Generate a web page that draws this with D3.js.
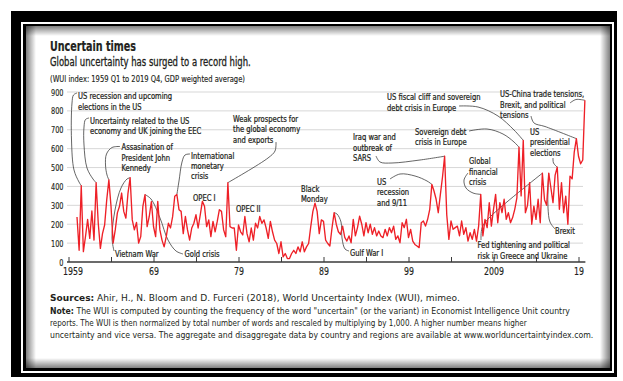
<!DOCTYPE html>
<html><head><meta charset="utf-8">
<script src="https://cdn.jsdelivr.net/npm/d3@7"></script>
<style>
html,body{margin:0;padding:0;background:#fff;}
svg{display:block;}
text{font-family:"Liberation Sans Narrow","DejaVu Sans Condensed","Roboto Condensed","Liberation Sans",Arial,sans-serif;fill:#231f20;}
</style></head><body>
<svg id="c" width="623" height="381"></svg>
<script>
// ---------------- DATA ----------------
const startYear = 1960; // first quarter drawn (Q1)
const wui = [
 238, 62,404, 55,  135,225,125,270,  116,420,205, 72,  150,196,330,435,  // 1960-63
 295,100,170,260,  295,365,268,232,  365,446,223,170,  210,100,135,295,  // 1964-67
 357,187,241,320,  188,134,321,170,  116, 80,134,205,  180,240,348,357,  // 1968-71
 277,268,150,241,  170,116,180,205,  250,180,250,321,  295,187,223,134,  // 1972-75
 215,160,215,277,  268,170,134,420,  187,180,180, 62,  196,160,143,241,  // 1976-79
 150,107,180,116,  205,180,241,205,  223,180,125,215,  160,116, 98, 45,  // 1980-83
 107, 27, 45, 18,   18, 45, 62, 45,   80, 54,107, 54,   80, 98,187,268,  // 1984-87
 312,268,150,223,  215,116, 98, 85,  180,261,200,160,  146,190,130,111,  // 1988-91
 138,102,226,138,  182,243,200,138,  208,155,200,146,  182,138,164,138,  // 1992-95
 129,173,138,182,  155,190,120,138,  102,208,182,226,  129,173,111, 93,  // 1996-99
  85, 76,208,217,  190,226,279,411,  376,332,261,358,  450,560,250,120,  // 2000-03
 217,173,182,190,  138,217,146,182,  111,155,120,173,  111,190,358,138,  // 2004-07
 226,182,314,190,  279,358,208,314,  261,332,226,261,  208,235,279,340,  // 2008-11
 608,350,644,261,  300,420,200,296,  226,332,208,470,  330,300,470,393,  // 2012-15
 314,460,502,279,  420,261,349,200,  455,440,582,653,  560,520,540,856   // 2016-19
];
const yTickValues = [0,100,200,300,400,500,600,700,800,900];
const xMajorYears = [1959,1969,1979,1989,1999,2009,2019];
const xTickLabels = ["1959","69","79","89","99","2009","19"];
const xMinorYears = [1964,1974,1984,1994,2004,2014];

const titleText = "Uncertain times";
const subtitleText = "Global uncertainty has surged to a record high.";
const unitText = "(WUI index: 1959 Q1 to 2019 Q4, GDP weighted average)";
const footer = [
 [["Sources:",true],[" Ahir, H., N. Bloom and D. Furceri (2018), World Uncertainty Index (WUI), mimeo.",false]],
 [["Note:",true],[" The WUI is computed by counting the frequency of the word \"uncertain\" (or the variant) in Economist Intelligence Unit country",false]],
 [["reports. The WUI is then normalized by total number of words and rescaled by multiplying by 1,000. A higher number means higher",false]],
 [["uncertainty and vice versa. The aggregate and disaggregate data by country and regions are available at www.worlduncertaintyindex.com.",false]]
];
// annotations: text lines, anchor quarter index of the pointed value
const annotations = [
 {lines:["US recession and upcoming","elections in the US"], target:2},
 {lines:["Uncertainty related to the US","economy and UK joining the EEC"], target:9},
 {lines:["Assasination of","President John","Kennedy"], target:15},
 {lines:["Vietnam War"], target:25},
 {lines:["Gold crisis"], target:32},
 {lines:["International","monetary","crisis"], target:47},
 {lines:["Weak prospects for","the global economy","and exports"], target:71},
 {lines:["OPEC I"], target:null},
 {lines:["OPEC II"], target:null},
 {lines:["Black","Monday"], target:null},
 {lines:["Gulf War I"], target:121},
 {lines:["US","recession","and 9/11"], target:167},
 {lines:["Iraq war and","outbreak of","SARS"], target:173},
 {lines:["Sovereign debt","crisis in Europe"], target:208},
 {lines:["US fiscal cliff and sovereign","debt crisis in Europe"], target:210},
 {lines:["Global","financial","crisis"], target:190},
 {lines:["Fed tightening and political","risk in Greece and Ukraine"], target:219},
 {lines:["US","presidential","elections"], target:226},
 {lines:["US-China trade tensions,","Brexit, and political","tensions"], target:239},
 {lines:["Brexit"], target:222},
 {lines:[], target:235}
];
// layout for annotations (text position and leader waypoints, pixels)
const annLayout = [
 {x:78, y:99.3, path:[[77,93],[73.5,95],[72,103],[71.5,140],[74,170],[79,182]]},
 {x:90, y:124, path:[[89,118],[85.5,119.5],[84,127],[84,145],[87,168],[93,179]]},
 {x:121.5, y:150.5, path:[[120,146.5],[112,147.5],[106.5,154],[105.5,165],[107,175]]},
 {x:115, y:257, path:[[114,251],[112,238],[115,210],[121,188],[127,179]]},
 {x:184.5, y:257, path:[[183,254],[176,251],[168,240],[160,218],[151,199]]},
 {x:191, y:158.8, path:[[190,154],[185,155],[182,162],[179,181]]},
 {x:233, y:122, path:[[276,142],[275,151],[268,158]]},
 {x:193, y:201.5, path:null},
 {x:236, y:212.5, path:null},
 {x:301, y:192, path:null},
 {x:350, y:256, path:[[349,251],[345,249],[342,238],[341,222],[337,214]]},
 {x:377, y:185, path:[[390,179],[400,174],[415,176],[427,181]]},
 {x:353, y:140.5, path:[[376,156],[380,162],[392,163],[420,160]]},
 {x:415, y:135, path:[[469,131],[487,129],[503,134],[514,142]]},
 {x:387, y:100.5, path:[[459,106],[478,107],[498,116],[514,130]]},
 {x:469, y:164.5, path:[[468,173],[464,180],[466,188],[473,193]]},
 {x:477.5, y:248.5, path:[[481,240],[482,228],[488,219]]},
 {x:530, y:135, path:[[553,158],[553.5,163]]},
 {x:500, y:97.5, path:[[570,103],[576,99.5]]},
 {x:555, y:234, path:[[555,229],[550,222],[548,208],[548,190]]},
 {x:0, y:0, path:[[531,116],[534,123],[545,126.5]]}
];

// ---------------- DRAW ----------------
const svg = d3.select("#c");
const defs = svg.append("defs");
svg.append("rect").attr("x",11).attr("y",11).attr("width",606).attr("height",366).attr("fill","#000");
svg.append("rect").attr("x",22).attr("y",23).attr("width",591).attr("height",349)
  .attr("fill","none").attr("stroke","#fff").attr("stroke-width",2);
svg.append("rect").attr("x",26).attr("y",26).attr("width",584).attr("height",342).attr("fill","#fff");
function grad(id,x1,y1,x2,y2){
  const g=defs.append("linearGradient").attr("id",id).attr("x1",x1).attr("y1",y1).attr("x2",x2).attr("y2",y2);
  g.append("stop").attr("offset",0).attr("stop-color","#000").attr("stop-opacity",0.5);
  g.append("stop").attr("offset",1).attr("stop-color","#000").attr("stop-opacity",0);
}
grad("gl",0,0,1,0); grad("gr",1,0,0,0); grad("gt",0,0,0,1); grad("gb",0,1,0,0);
const sw=10;
svg.append("rect").attr("x",26).attr("y",26).attr("width",sw).attr("height",342).attr("fill","url(#gl)");
svg.append("rect").attr("x",610-sw).attr("y",26).attr("width",sw).attr("height",342).attr("fill","url(#gr)");
svg.append("rect").attr("x",26).attr("y",26).attr("width",584).attr("height",sw).attr("fill","url(#gt)");
svg.append("rect").attr("x",26).attr("y",368-sw).attr("width",584).attr("height",sw).attr("fill","url(#gb)");

function fitted(parent, x, y, target, build){
  const g = parent.append("g");
  build(g);
  const w = g.node().getBBox().width;
  const k = target / w;
  g.attr("transform",`translate(${x},${y}) scale(${k},1)`);
  return g;
}
// headings
fitted(svg,50,50.8,86,g=>g.append("text").attr("font-size",13.2).attr("font-weight","bold")
  .attr("stroke","#231f20").attr("stroke-width",0.2).text(titleText));
fitted(svg,50,65.7,201,g=>g.append("text").attr("font-size",11.8)
  .attr("stroke","#231f20").attr("stroke-width",0.3).text(subtitleText));
fitted(svg,50,82,195,g=>g.append("text").attr("font-size",9.2)
  .attr("stroke","#231f20").attr("stroke-width",0.15).text(unitText));

// scales
const x = d3.scaleLinear().domain([1959,2019]).range([68.5,578.5]);
const y = d3.scaleLinear().domain([0,900]).range([262,92]);
const tOf = i => startYear + i/4;

// gridlines
svg.append("g").selectAll("line").data(yTickValues.filter(v=>v>0)).join("line")
  .attr("x1",67).attr("x2",583).attr("y1",d=>y(d)).attr("y2",d=>y(d))
  .attr("stroke","#d2d2d2").attr("stroke-width",0.9);

// y axis labels
const yAx = svg.append("g").call(d3.axisLeft(y).tickValues(yTickValues).tickSize(0).tickPadding(0));
yAx.select(".domain").remove();
yAx.selectAll("text").attr("font-size",9.4).attr("font-family",null).attr("fill","#231f20")
  .attr("stroke","#231f20").attr("stroke-width",0.15);
{
  const texts = yAx.selectAll(".tick text").nodes();
  const w = texts[texts.length-1].getBBox().width;
  yAx.attr("transform",`translate(63.5,0) scale(${12.5/w},1)`);
}

// x axis
const xAx = svg.append("g").attr("transform",`translate(0,${y(0)})`)
  .call(d3.axisBottom(x).tickValues(xMajorYears).tickFormat((d,i)=>xTickLabels[i]).tickSizeInner(-5).tickSizeOuter(0).tickPadding(6));
xAx.select(".domain").remove();
xAx.selectAll("line").attr("stroke","#3a3a3a").attr("stroke-width",1);
xAx.selectAll("text").attr("font-size",9.8).attr("font-family",null).attr("fill","#231f20")
  .attr("stroke","#231f20").attr("stroke-width",0.15);
{
  const w = xAx.select(".tick text").node().getBBox().width;
  const k = 20/w;
  xAx.selectAll("text").attr("transform",(d,i)=> i===0 ? `translate(4,0) scale(${k},1)` : `scale(${k},1)`);
}
const xMin = svg.append("g").attr("transform",`translate(0,${y(0)})`)
  .call(d3.axisBottom(x).tickValues(xMinorYears).tickFormat("").tickSizeInner(-5).tickSizeOuter(0));
xMin.select(".domain").remove();
xMin.selectAll("line").attr("stroke","#3a3a3a").attr("stroke-width",1);
svg.append("line").attr("x1",67).attr("x2",x(tOf(wui.length-1))+0.5).attr("y1",y(0)).attr("y2",y(0))
  .attr("stroke","#3a3a3a").attr("stroke-width",1.5);

// leader lines
const leader = d3.line().curve(d3.curveCatmullRom.alpha(0.5));
annotations.forEach((a,j)=>{
  const L = annLayout[j];
  if (a.target===null || !L.path) return;
  const pts = L.path.concat([[x(tOf(a.target)), y(wui[a.target])]]);
  svg.append("path").attr("d",leader(pts)).attr("fill","none").attr("stroke","#333").attr("stroke-width",0.75);
});

// series line
svg.append("path").datum(wui)
  .attr("d", d3.line().x((d,i)=>x(tOf(i))).y(d=>y(d)))
  .attr("fill","none").attr("stroke","#ee2027").attr("stroke-width",1.35).attr("stroke-linejoin","round");

// annotation texts
const annFont = 9.4, lh = 10.3;
let kAnn;
{
  const t = svg.append("text").attr("font-size",annFont).text(annotations[0].lines[0]);
  kAnn = 94 / t.node().getBBox().width;
  t.remove();
}
annotations.forEach((a,j)=>{
  if (!a.lines.length) return;
  const L = annLayout[j];
  const g = svg.append("g").attr("transform",`translate(${L.x},0) scale(${kAnn},1)`);
  a.lines.forEach((s,n)=>{
    g.append("text").attr("x",0).attr("y",L.y + n*lh).attr("font-size",annFont)
      .attr("stroke","#231f20").attr("stroke-width",0.25).text(s);
  });
});

// footer
const footW = [410,521,478,544];
const footY = [301,313.5,325.5,337.5];
footer.forEach((parts,i)=>{
  fitted(svg,50,footY[i],footW[i],g=>{
    const t = g.append("text").attr("font-size",9);
    parts.forEach(p=>t.append("tspan").attr("font-weight",p[1]?"bold":null).text(p[0]));
  });
});
</script>
</body></html>
